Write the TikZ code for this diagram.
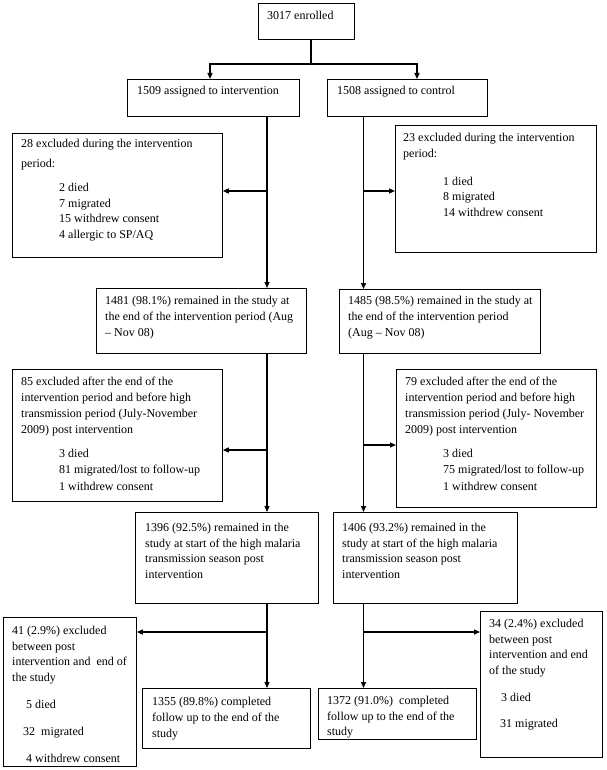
\documentclass[tikz,border=0pt]{standalone}
\usepackage{fontspec}
\setmainfont{Liberation Serif}
\usetikzlibrary{arrows.meta}
\tikzset{
  bx/.style={draw=black, line width=0.8pt, inner sep=0pt, anchor=north west},
  txt/.style={inner sep=0pt, align=left, anchor=north west, font=\fontsize{12}{15.8}\selectfont},
  ln/.style={line width=1.3pt},
  arr/.style={line width=1.3pt, -{Triangle[length=6pt,width=5pt]}}
}
\newcommand\mybox[5]{\node[bx, minimum width=#4, minimum height=#5] (#1) at (#2,#3) {};}
\begin{document}
\begin{tikzpicture}[x=1pt,y=-1pt]
\useasboundingbox (0,0) rectangle (606,770);
% boxes
\mybox{enr}{258}{3}{96pt}{36pt}
\mybox{int}{127}{79}{172pt}{37pt}
\mybox{con}{327}{79}{160pt}{37pt}
\mybox{ex28}{12}{133}{210pt}{124pt}
\mybox{ex23}{395}{125}{201pt}{127pt}
\mybox{rA}{96}{288}{210pt}{65pt}
\mybox{rB}{339}{289}{201pt}{64pt}
\mybox{ex85}{12}{369}{210pt}{132pt}
\mybox{ex79}{396}{369}{200pt}{138pt}
\mybox{sA}{135}{512}{183pt}{91pt}
\mybox{sB}{333}{512}{184pt}{91pt}
\mybox{ex41}{3}{617}{133pt}{149pt}
\mybox{cA}{142}{688}{168pt}{60pt}
\mybox{ex34}{480}{611}{122pt}{146pt}
\mybox{cB}{318}{688}{158pt}{51pt}
% texts
\node[txt] (t-enr) at (267,8) {\strut 3017 enrolled};
\node[txt] (t-int) at (137,83.7) {\strut 1509 assigned to intervention};
\node[txt] (t-con) at (337,83.7) {\strut 1508 assigned to control};
\node[txt] (t-ex28) at (21,136) {\strut 28 excluded during the intervention\\[4.2pt]
period:\\[8.2pt]
\hspace*{38pt}2 died\\
\hspace*{38pt}7 migrated\\
\hspace*{38pt}15 withdrew consent\\
\hspace*{38pt}4 allergic to SP/AQ};
\node[txt] (t-ex23) at (403,130) {\strut 23 excluded during the intervention\\
period:\\[12.2pt]
\hspace*{40pt}1 died\\
\hspace*{40pt}8 migrated\\
\hspace*{40pt}14 withdrew consent};
\node[txt] (t-rA) at (105,293.7) {\strut 1481 (98.1\%) remained in the study at\\
the end of the intervention period (Aug\\
– Nov 08)};
\node[txt] (t-rB) at (348,293.7) {\strut 1485 (98.5\%) remained in the study at\\
the end of the intervention period\\
(Aug – Nov 08)};
\node[txt] (t-ex85) at (21,374.7) {\strut 85 excluded after the end of the\\
intervention period and before high\\
transmission period (July-November\\
2009) post intervention\\[8.2pt]
\hspace*{38pt}3 died\\[0.8pt]
\hspace*{38pt}81 migrated/lost to follow-up\\[0.8pt]
\hspace*{38pt}1 withdrew consent};
\node[txt] (t-ex79) at (405,374.7) {\strut 79 excluded after the end of the\\
intervention period and before high\\
transmission period (July- November\\
2009) post intervention\\[8.2pt]
\hspace*{38pt}3 died\\[0.8pt]
\hspace*{38pt}75 migrated/lost to follow-up\\[0.8pt]
\hspace*{38pt}1 withdrew consent};
\node[txt] (t-sA) at (145,520) {\strut 1396 (92.5\%) remained in the\\
study at start of the high malaria\\
transmission season post\\
intervention};
\node[txt] (t-sB) at (342,520) {\strut 1406 (93.2\%) remained in the\\
study at start of the high malaria\\
transmission season post\\
intervention};
\node[txt] (t-ex41) at (12,623) {\strut 41 (2.9\%) excluded\\
between post\\
intervention and\ \ end of\\
the study\\[11.3pt]
\hspace*{14pt}5 died\\[11pt]
\hspace*{11pt}32\ \ migrated\\[11pt]
\hspace*{14pt}4 withdrew consent};
\node[txt] (t-ex34) at (489,616) {\strut 34 (2.4\%) excluded\\
between post\\
intervention and end\\
of the study\\[11.2pt]
\hspace*{12pt}3 died\\[10.5pt]
\hspace*{11pt}31 migrated};
\node[txt] (t-cA) at (152,694.7) {\strut 1355 (89.8\%) completed\\
follow up to the end of the\\
study};
\node[txt] (t-cB) at (327,693) {\strut 1372 (91.0\%)\ \ completed\\
follow up to the end of the\\
study};
% column coordinates
\coordinate (cT) at (311,64);
\coordinate (aL) at (210,0);
\coordinate (aR) at (417,0);
\coordinate (colL) at (267,0);
\coordinate (colR) at (363.5,0);
\coordinate (b1L) at (267,191);
\coordinate (b1R) at (363.5,191);
\coordinate (b2L) at (267,450);
\coordinate (b2R) at (363.5,445);
\coordinate (b3L) at (267,632);
\coordinate (b3R) at (363.5,632);
% connectors
\draw[ln] (enr.south -| cT) -- (cT);
\draw[arr] (cT) -| (int.north -| aL);
\draw[arr] (cT) -| (con.north -| aR);
\draw[arr] (int.south -| colL) -- (rA.north -| colL);
\draw[arr] (con.south -| colR) -- (rB.north -| colR);
\draw[arr] (b1L) -- (b1L -| ex28.east);
\draw[arr] (b1R) -- (b1R -| ex23.west);
\draw[arr] (rA.south -| colL) -- (sA.north -| colL);
\draw[arr] (rB.south -| colR) -- (sB.north -| colR);
\draw[arr] (b2L) -- (b2L -| ex85.east);
\draw[arr] (b2R) -- (b2R -| ex79.west);
\draw[arr] (sA.south -| colL) -- (cA.north -| colL);
\draw[arr] (sB.south -| colR) -- (cB.north -| colR);
\draw[arr] (b3L) -- (b3L -| ex41.east);
\draw[arr] (b3R) -- (b3R -| ex34.west);
\end{tikzpicture}
\end{document}
